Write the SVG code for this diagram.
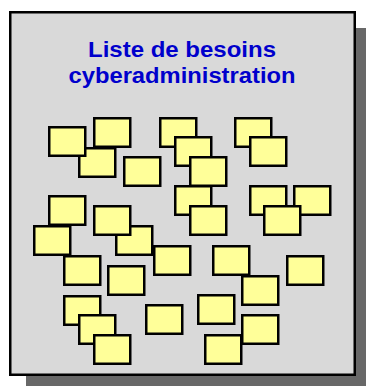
<svg xmlns="http://www.w3.org/2000/svg" width="366" height="386" viewBox="0 0 366 386">
<style>
.note rect{fill:#FFFF99;stroke:#000;stroke-width:2.5}
.title{font-family:"Liberation Sans",Arial,sans-serif;font-weight:bold;font-size:22px;fill:#0000CC}
</style>
<rect width="366" height="386" fill="#FFFFFF"/>
<g id="panel">
<rect x="26" y="28" width="347" height="365" fill="#686868"/>
<rect x="10.25" y="12.25" width="344.5" height="362.5" fill="#D9D9D9" stroke="#000" stroke-width="2.5"/>
<text class="title" x="182" y="57" text-anchor="middle" textLength="188" lengthAdjust="spacingAndGlyphs">Liste de besoins</text>
<text class="title" x="182" y="82.5" text-anchor="middle" textLength="227" lengthAdjust="spacingAndGlyphs">cyberadministration</text>
</g>
<g id="notes">
<g id="note1" class="note"><rect x="94.25" y="118.25" width="36" height="28.5"/></g>
<g id="note2" class="note"><rect x="79.25" y="148.25" width="36" height="28.5"/></g>
<g id="note3" class="note"><rect x="49.25" y="127.25" width="36" height="28.5"/></g>
<g id="note4" class="note"><rect x="124.25" y="157.25" width="36" height="28.5"/></g>
<g id="note5" class="note"><rect x="160.25" y="118.25" width="36" height="28.5"/></g>
<g id="note6" class="note"><rect x="175.25" y="137.25" width="36" height="28.5"/></g>
<g id="note7" class="note"><rect x="190.25" y="157.25" width="36" height="28.5"/></g>
<g id="note8" class="note"><rect x="235.25" y="118.25" width="36" height="28.5"/></g>
<g id="note9" class="note"><rect x="250.25" y="137.25" width="36" height="28.5"/></g>
<g id="note10" class="note"><rect x="175.25" y="186.25" width="36" height="28.5"/></g>
<g id="note11" class="note"><rect x="190.25" y="206.25" width="36" height="28.5"/></g>
<g id="note12" class="note"><rect x="250.25" y="186.25" width="36" height="28.5"/></g>
<g id="note13" class="note"><rect x="294.25" y="186.25" width="36" height="28.5"/></g>
<g id="note14" class="note"><rect x="264.25" y="206.25" width="36" height="28.5"/></g>
<g id="note15" class="note"><rect x="49.25" y="196.25" width="36" height="28.5"/></g>
<g id="note16" class="note"><rect x="34.25" y="226.25" width="36" height="28.5"/></g>
<g id="note17" class="note"><rect x="116.25" y="226.25" width="36" height="28.5"/></g>
<g id="note18" class="note"><rect x="94.25" y="206.25" width="36" height="28.5"/></g>
<g id="note19" class="note"><rect x="154.25" y="246.25" width="36" height="28.5"/></g>
<g id="note20" class="note"><rect x="64.25" y="256.25" width="36" height="28.5"/></g>
<g id="note21" class="note"><rect x="108.25" y="266.25" width="36" height="28.5"/></g>
<g id="note22" class="note"><rect x="213.25" y="246.25" width="36" height="28.5"/></g>
<g id="note23" class="note"><rect x="242.25" y="276.25" width="36" height="28.5"/></g>
<g id="note24" class="note"><rect x="287.25" y="256.25" width="36" height="28.5"/></g>
<g id="note25" class="note"><rect x="64.25" y="296.25" width="36" height="28.5"/></g>
<g id="note26" class="note"><rect x="79.25" y="315.25" width="36" height="28.5"/></g>
<g id="note27" class="note"><rect x="94.25" y="335.25" width="36" height="28.5"/></g>
<g id="note28" class="note"><rect x="146.25" y="305.25" width="36" height="28.5"/></g>
<g id="note29" class="note"><rect x="198.25" y="295.25" width="36" height="28.5"/></g>
<g id="note30" class="note"><rect x="242.25" y="315.25" width="36" height="28.5"/></g>
<g id="note31" class="note"><rect x="205.25" y="335.25" width="36" height="28.5"/></g>
</g>
<g id="connectors"/>
</svg>
